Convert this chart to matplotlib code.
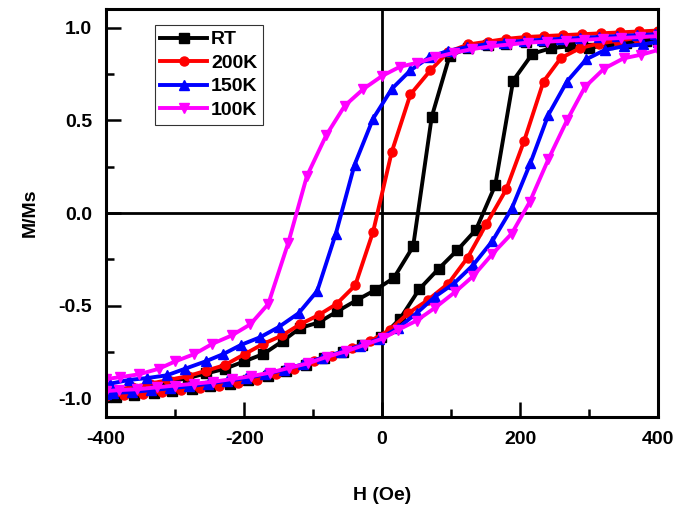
import numpy as np
import matplotlib
matplotlib.use("Agg")
from matplotlib import pyplot as plt
from matplotlib.ticker import MultipleLocator

plt.rcParams['font.family'] = ['Liberation Sans', 'DejaVu Sans']
plt.rcParams['font.weight'] = 'bold'
plt.rcParams['axes.unicode_minus'] = False

# RT loop
rt_h_down = [400, 372, 345, 317, 290, 262, 235, 208, 180, 153, 125, 98, 72, 45, 17,
             -10, -37, -65, -92, -119, -144, -172, -200, -228, -255, -282, -310, -336, -363, -390, -400]
rt_m_down = [0.96, 0.955, 0.95, 0.945, 0.94, 0.935, 0.93, 0.925, 0.915, 0.905, 0.89, 0.85, 0.52, -0.18, -0.35,
             -0.415, -0.47, -0.53, -0.59, -0.62, -0.69, -0.76, -0.80, -0.84, -0.865, -0.89, -0.91, -0.93, -0.95, -0.97, -0.975]
rt_h_up = [-400, -386, -359, -331, -304, -276, -249, -221, -194, -166, -139, -111, -84, -56, -29,
           -1, 26, 54, 82, 109, 136, 164, 190, 218, 245, 272, 300, 327, 354, 382, 400]
rt_m_up = [-0.99, -0.99, -0.98, -0.97, -0.96, -0.95, -0.93, -0.92, -0.90, -0.88, -0.85, -0.82, -0.78, -0.75, -0.71,
           -0.67, -0.57, -0.41, -0.30, -0.20, -0.09, 0.15, 0.715, 0.86, 0.89, 0.90, 0.89, 0.91, 0.92, 0.93, 0.93]

# 200K loop
k200_h_down = [400, 372, 345, 317, 290, 262, 235, 208, 180, 153, 125, 96, 70, 41, 14,
               -13, -39, -66, -92, -119, -145, -172, -199, -228, -255, -282, -310, -336, -363, -390, -400]
k200_m_down = [0.985, 0.98, 0.975, 0.97, 0.965, 0.96, 0.955, 0.95, 0.94, 0.925, 0.91, 0.87, 0.77, 0.64, 0.33,
               -0.10, -0.39, -0.49, -0.55, -0.60, -0.66, -0.705, -0.76, -0.82, -0.85, -0.88, -0.90, -0.92, -0.94, -0.955, -0.96]
k200_h_up = [-400, -374, -347, -319, -292, -264, -237, -209, -182, -154, -127, -99, -72, -44, -17,
             11, 38, 66, 96, 124, 151, 180, 206, 234, 259, 287, 314, 342, 369, 396, 400]
k200_m_up = [-0.985, -0.98, -0.975, -0.965, -0.955, -0.945, -0.93, -0.915, -0.90, -0.87, -0.84, -0.80, -0.77, -0.73, -0.69,
             -0.63, -0.54, -0.47, -0.38, -0.24, -0.06, 0.128, 0.39, 0.71, 0.836, 0.89, 0.915, 0.93, 0.945, 0.96, 0.96]

# 150K loop
k150_h_down = [400, 396, 369, 341, 314, 287, 259, 232, 205, 177, 150, 123, 95, 68, 41, 14,
               -13, -40, -67, -94, -121, -150, -177, -204, -230, -256, -286, -312, -341, -367, -394, -400]
k150_m_down = [0.965, 0.965, 0.96, 0.955, 0.95, 0.945, 0.94, 0.935, 0.93, 0.92, 0.91, 0.895, 0.875, 0.84, 0.77, 0.67,
               0.51, 0.26, -0.11, -0.42, -0.54, -0.615, -0.67, -0.71, -0.76, -0.80, -0.84, -0.875, -0.89, -0.90, -0.92, -0.925]
k150_h_up = [-400, -390, -362, -335, -307, -280, -252, -225, -197, -170, -142, -115, -87, -60, -32, -5,
             23, 50, 77, 104, 132, 160, 188, 215, 241, 268, 296, 323, 350, 378, 400]
k150_m_up = [-0.975, -0.97, -0.965, -0.955, -0.945, -0.935, -0.92, -0.905, -0.89, -0.87, -0.845, -0.815, -0.78, -0.75, -0.715, -0.68,
             -0.62, -0.54, -0.45, -0.38, -0.28, -0.15, 0.025, 0.27, 0.53, 0.71, 0.83, 0.88, 0.90, 0.91, 0.925]

# 100K loop
k100_h_down = [400, 374, 347, 320, 293, 266, 239, 212, 185, 158, 131, 104, 77, 50, 26, 0,
               -27, -54, -81, -109, -136, -165, -191, -218, -246, -272, -300, -324, -353, -380, -400]
k100_m_down = [0.955, 0.95, 0.945, 0.94, 0.935, 0.93, 0.925, 0.92, 0.91, 0.90, 0.885, 0.865, 0.84, 0.81, 0.79, 0.74,
               0.67, 0.58, 0.42, 0.20, -0.16, -0.49, -0.60, -0.66, -0.705, -0.76, -0.80, -0.84, -0.87, -0.885, -0.895]
k100_h_up = [-400, -382, -355, -327, -300, -272, -245, -217, -190, -162, -135, -107, -80, -52, -25, 2,
             23, 50, 77, 106, 132, 160, 188, 214, 241, 268, 294, 322, 350, 376, 400]
k100_m_up = [-0.96, -0.955, -0.95, -0.94, -0.93, -0.92, -0.91, -0.895, -0.88, -0.86, -0.835, -0.81, -0.775, -0.745, -0.71, -0.675,
             -0.63, -0.58, -0.51, -0.425, -0.34, -0.22, -0.11, 0.06, 0.29, 0.50, 0.68, 0.78, 0.835, 0.855, 0.88]

series = [
    ("RT", rt_h_down, rt_m_down, rt_h_up, rt_m_up, "black", "s"),
    ("200K", k200_h_down, k200_m_down, k200_h_up, k200_m_up, "#ff0000", "o"),
    ("150K", k150_h_down, k150_m_down, k150_h_up, k150_m_up, "#0000ff", "^"),
    ("100K", k100_h_down, k100_m_down, k100_h_up, k100_m_up, "#ff00ff", "v"),
]

fig = plt.figure(figsize=(6.85, 5.12), dpi=100)
ax = fig.add_axes([0.155, 0.1855, 0.8056, 0.7965])

ax.axhline(0, color="black", lw=2, zorder=1)
ax.axvline(0, color="black", lw=2, zorder=1)

for name, hd, md, hu, mu, col, mk in series:
    h = np.concatenate([hd, hu])
    m = np.concatenate([md, mu])
    ax.plot(h, m, color=col, marker=mk, ms=6.5, lw=2.8, label=name, zorder=2)

ax.set_xlim(-400, 400)
ax.set_ylim(-1.1, 1.1)
ax.xaxis.set_major_locator(MultipleLocator(200))
ax.xaxis.set_minor_locator(MultipleLocator(100))
ax.yaxis.set_minor_locator(MultipleLocator(0.25))
ax.set_yticks([-1.0, -0.5, 0.0, 0.5, 1.0])
ax.set_yticklabels(["-1.0", "-0.5", "0.0", "0.5", "1.0"])
ax.tick_params(which="major", direction="in", length=11, width=1.8, labelsize=14, pad=10)
ax.tick_params(which="minor", direction="in", length=6, width=1.8)
for s in ax.spines.values():
    s.set_linewidth(2.2)

ax.set_xlabel("H (Oe)", fontsize=14, fontweight="bold", labelpad=28)
ax.set_ylabel("M/Ms", fontsize=14, fontweight="bold", labelpad=14)

leg = ax.legend(loc="upper left", bbox_to_anchor=(0.07, 0.985), fontsize=14, numpoints=1,
                handlelength=2.4, frameon=True, fancybox=False, edgecolor="black",
                borderpad=0.3, labelspacing=0.3, handletextpad=0.2)
leg.get_frame().set_linewidth(0.8)

fig.savefig("out.png", dpi=100)
